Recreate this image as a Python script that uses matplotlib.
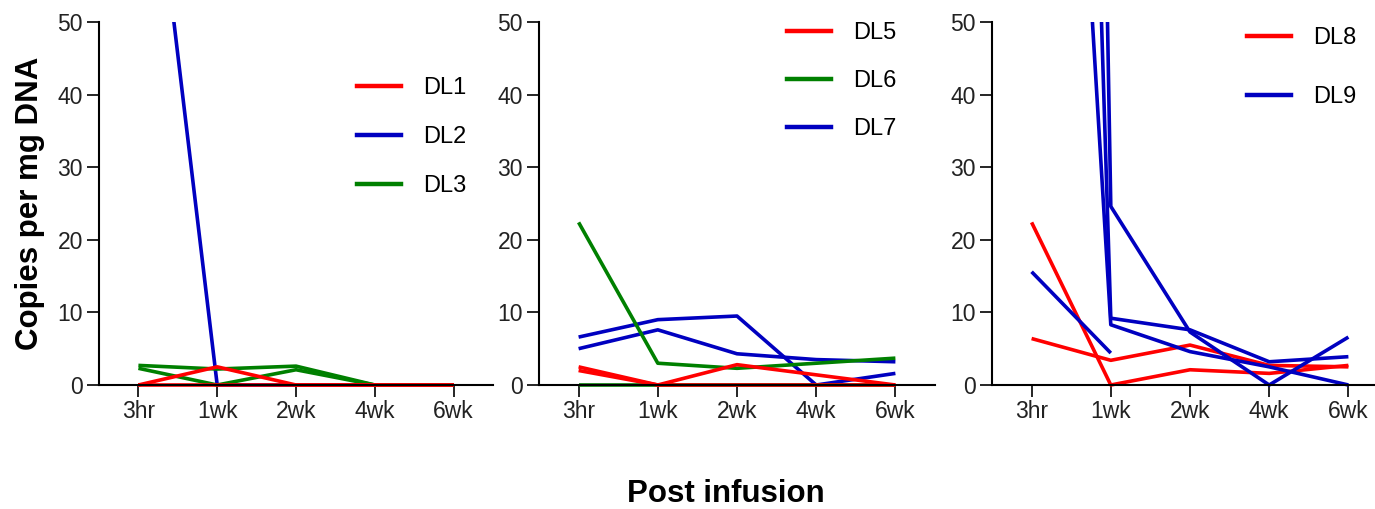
import numpy as np
import matplotlib
matplotlib.use('Agg')
from matplotlib import pyplot as plt
from matplotlib.lines import Line2D

plt.rcParams['font.family'] = ['Liberation Sans', 'DejaVu Sans']

# time points
timepoints = ['3hr', '1wk', '2wk', '4wk', '6wk']

# panel 1
dl1 = [[0, 2.5, 0, 0, 0], [0, 0, 0, 0, 0]]
dl2 = [[91, 0, 0, 0, 0]]
dl3 = [[2.7, 2.2, 2.6, 0, 0], [2.3, 0, 2.1, 0, 0]]

# panel 2
dl5 = [[2.5, 0, 2.8, 1.4, 0], [2.0, 0, 0, 0, 0]]
dl6 = [[22.4, 3.0, 2.3, 3.0, 3.7], [0, 0, 0, 0, 0]]
dl7 = [[6.6, 9.0, 9.5, 0, 1.6], [5.0, 7.6, 4.3, 3.5, 3.2]]

# panel 3
dl8 = [[22.4, 0, 2.1, 1.6, 2.7], [6.4, 3.4, 5.5, 2.7, 2.5]]
dl9 = [[15.6, 4.4, np.nan, np.nan, np.nan],
       [188, 8.3, 4.6, 2.5, 0],
       [357, 9.2, 7.6, 3.2, 3.9],
       [635, 24.6, 7.3, 0, 6.6]]

RED = '#FF0000'
BLUE = '#0000C0'
GREEN = '#008000'

fig = plt.figure(figsize=(13.75, 5.09), dpi=100)
W, H = 1375.0, 509.0


def make_axes(left_px, right_px):
    # y=0 at pixel 385, y=50 at pixel 22
    ppu = (385 - 22) / 50.0
    ymin = -0.4
    bottom = 385 + (-ymin) * ppu
    ax = fig.add_axes([left_px / W, (H - bottom) / H,
                       (right_px - left_px) / W, (bottom - 22) / H])
    ax.set_xlim(-0.5, 4.5)
    ax.set_ylim(ymin, 50)
    ax.spines['top'].set_visible(False)
    ax.spines['right'].set_visible(False)
    ax.spines['bottom'].set_position(('data', 0))
    ax.spines['left'].set_bounds(0, 50)
    for s in ['left', 'bottom']:
        ax.spines[s].set_linewidth(1.5)
    ax.set_xticks(range(len(timepoints)))
    ax.set_xticklabels(timepoints)
    ax.set_yticks([0, 10, 20, 30, 40, 50])
    ax.tick_params(axis='both', length=8.5, width=1.2, labelsize=16.5,
                   labelcolor='#222222', direction='out')
    ax.tick_params(axis='x', pad=2)
    ax.tick_params(axis='y', pad=3)
    return ax


def draw(ax, series, color):
    x = np.arange(len(timepoints))
    for s in series:
        ax.plot(x, s, color=color, lw=2.6, solid_capstyle='butt')


def legend(ax, names, colors, x, y, spacing):
    handles = [Line2D([], [], color=c, lw=3.2) for c in colors]
    ax.legend(handles, names, loc='upper left', bbox_to_anchor=(x, y),
              frameon=False, fontsize=17, handlelength=1.85,
              handletextpad=0.95, labelspacing=spacing,
              borderpad=0, borderaxespad=0)


ax1 = make_axes(99, 493)
draw(ax1, dl2, BLUE)
draw(ax1, dl3, GREEN)
draw(ax1, dl1, RED)
legend(ax1, ['DL1', 'DL2', 'DL3'], [RED, BLUE, GREEN], 0.655, 0.85, 1.15)

ax2 = make_axes(539, 935)
draw(ax2, dl7, BLUE)
draw(ax2, dl6, GREEN)
draw(ax2, dl5, RED)
legend(ax2, ['DL5', 'DL6', 'DL7'], [RED, GREEN, BLUE], 0.626, 1.0, 1.1)

ax3 = make_axes(992, 1388)
draw(ax3, dl8, RED)
draw(ax3, dl9, BLUE)
legend(ax3, ['DL8', 'DL9'], [RED, BLUE], 0.644, 0.985, 1.55)

fig.text(30 / W, (H - 203) / H, 'Copies per mg DNA', rotation=90,
         ha='center', va='center', fontsize=22.5, fontweight='bold')
fig.text(726 / W, (H - 494) / H, 'Post infusion',
         ha='center', va='center', fontsize=22.5, fontweight='bold')

plt.savefig('out.png', dpi=100)
